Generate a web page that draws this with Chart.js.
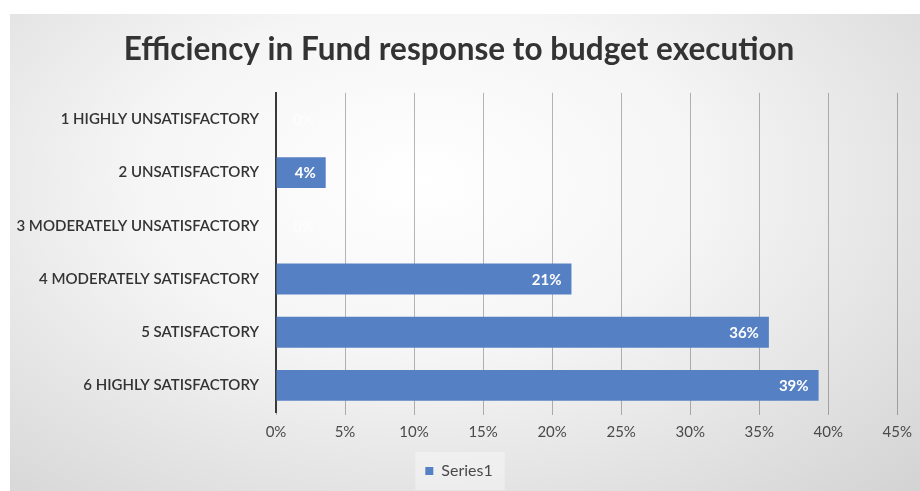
<!DOCTYPE html>
<html>
<head>
<meta charset="utf-8">
<script src="https://cdn.jsdelivr.net/npm/chart.js@4/dist/chart.umd.min.js"></script>
<style>
    html, body { margin: 0; padding: 0; background: #fff; }
    #wrap {
        position: absolute; left: 10px; top: 14px; width: 910px; height: 477px;
        background: radial-gradient(ellipse at 45% 35%, #ffffff 0%, #f5f5f5 40%, #d3d3d3 100%);
    }
</style>
</head>
<body>
<div id="wrap"><canvas id="chart" width="910" height="477"></canvas></div>
<script>
// categories and values (percent)
var categories = [
    "1 HIGHLY UNSATISFACTORY",
    "2 UNSATISFACTORY",
    "3 MODERATELY UNSATISFACTORY",
    "4 MODERATELY SATISFACTORY",
    "5 SATISFACTORY",
    "6 HIGHLY SATISFACTORY"
];
var series1 = [0, 3.6, 0, 21.4, 35.7, 39.3];
var seriesName = "Series1";

var textFont = "Lato, 'Open Sans', sans-serif";

/**
 * White value labels drawn at the inner end of every bar
 */
var barLabels = {
    id: 'barLabels',
    afterDatasetsDraw: function (chart) {
        let ctx = chart.ctx;
        let meta = chart.getDatasetMeta(0);
        ctx.save();
        ctx.font = "bold 15px " + textFont;
        ctx.fillStyle = "#ffffff";
        ctx.textAlign = "right";
        ctx.textBaseline = "middle";
        meta.data.forEach(function (bar, i) {
            let txt = Math.round(series1[i]) + "%";
            let x = Math.max(bar.x - 10, bar.base + 38);
            if (series1[i] === 0)
                ctx.globalAlpha = 0.6;
            ctx.fillText(txt, x, bar.y + 1);
            ctx.globalAlpha = 1;
        });
        ctx.restore();
    }
};

/**
 * Faint box behind the legend entry
 */
var legendBox = {
    id: 'legendBox',
    beforeDraw: function (chart) {
        let lg = chart.legend;
        if (!lg || !lg.legendHitBoxes || !lg.legendHitBoxes.length)
            return;
        let hb = lg.legendHitBoxes[0];
        let ctx = chart.ctx;
        ctx.save();
        ctx.fillStyle = "rgba(255,255,255,0.35)";
        ctx.fillRect(hb.left - 10, hb.top - 11, hb.width + 22, hb.height + 22);
        ctx.restore();
    }
};

var ctx = document.getElementById('chart');
var chart = new Chart(ctx, {
    type: 'bar',
    data: {
        labels: categories,
        datasets: [{
            label: seriesName,
            data: series1,
            backgroundColor: "#5680c4",
            borderWidth: 0,
            categoryPercentage: 1,
            barPercentage: 0.58
        }]
    },
    options: {
        indexAxis: 'y',
        responsive: false,
        animation: false,
        layout: { padding: { left: 0, right: 12, top: 0, bottom: 2 } },
        scales: {
            x: {
                min: 0,
                max: 45,
                ticks: {
                    stepSize: 5,
                    color: "#4a4a4a",
                    padding: 8,
                    font: { family: textFont, size: 15 },
                    callback: function (v) { return v + "%"; }
                },
                grid: {
                    color: "rgba(0,0,0,0.28)",
                    lineWidth: 1,
                    tickLength: 3,
                    drawOnChartArea: true
                },
                border: { display: false }
            },
            y: {
                afterFit: function (scale) { scale.width = 266; },
                ticks: {
                    color: "#333333",
                    padding: 9,
                    font: { family: textFont, size: 15, weight: '600' }
                },
                grid: { display: false },
                border: { display: true, color: "#3a3a3a", width: 2 }
            }
        },
        plugins: {
            title: {
                display: true,
                text: "Efficiency in Fund response to budget execution",
                color: "#333333",
                font: { family: textFont, size: 31.5, weight: 'bold' },
                padding: { top: 17, bottom: 24 }
            },
            legend: {
                position: 'bottom',
                labels: {
                    color: "#4a4a4a",
                    font: { family: textFont, size: 16 },
                    boxWidth: 8,
                    boxHeight: 8,
                    padding: 14
                }
            },
            tooltip: { enabled: false }
        }
    },
    plugins: [barLabels, legendBox]
});
</script>
</body>
</html>
